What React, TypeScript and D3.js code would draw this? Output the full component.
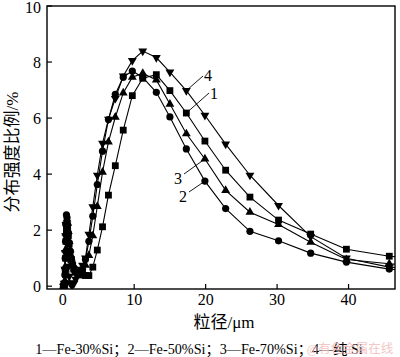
import React from "react";
import * as d3 from "d3";

const sizes = [0.1, 0.2, 0.3, 0.35, 0.4, 0.46, 0.52, 0.6, 0.69, 0.79, 0.9, 1.04, 1.2, 1.38, 1.58, 1.82, 2.09, 2.41, 2.77, 3.18, 3.66, 4.21, 4.84, 5.57, 6.4, 7.36, 8.47, 9.74, 11.2, 13.1, 15.0, 17.3, 19.9, 22.8, 26.2, 30.2, 34.7, 39.7, 45.7, 52.6];

const s1 = [0, 0, 0.1, 0.5, 1.0, 1.6, 2.0, 2.2, 2.1, 1.8, 1.5, 1.2, 0.95, 0.75, 0.6, 0.5, 0.45, 0.42, 0.4, 0.38, 0.38, 0.68, 1.29, 2.12, 3.25, 4.3, 5.57, 6.8, 7.42, 7.55, 6.98, 6.18, 5.18, 4.14, 3.18, 2.36, 1.86, 1.32, 1.07, 0.95];
const s2 = [0, 0.05, 0.4, 1.0, 1.6, 2.2, 2.55, 2.45, 2.2, 1.9, 1.55, 1.25, 1.0, 0.8, 0.65, 0.55, 0.5, 0.5, 0.6, 0.95, 1.6, 2.5, 3.63, 4.82, 5.95, 6.85, 7.46, 7.68, 7.45, 6.92, 6.04, 4.9, 3.75, 2.77, 1.96, 1.62, 1.18, 0.86, 0.61, 0.5];
const s3 = [0, 0, 0.2, 0.7, 1.3, 1.9, 2.3, 2.4, 2.25, 1.95, 1.6, 1.3, 1.0, 0.8, 0.62, 0.52, 0.48, 0.48, 0.55, 0.75, 1.1, 1.8, 2.85, 4.07, 5.15, 6.03, 6.9, 7.46, 7.6, 7.36, 6.5, 5.44, 4.54, 3.42, 2.64, 2.2, 1.57, 0.95, 0.8, 0.7];
const s4 = [0, 0.1, 0.6, 1.2, 1.8, 2.2, 2.1, 1.7, 1.2, 0.7, 0.35, 0.12, 0.05, 0.05, 0.1, 0.25, 0.45, 0.6, 0.75, 1.0, 1.85, 2.83, 3.96, 5.1, 5.96, 6.7, 7.5, 8.05, 8.39, 8.16, 7.64, 6.98, 6.1, 5.07, 3.96, 2.88, 1.77, 1.0, 0.68, 0.55];

const seriesNames = ["1", "2", "3", "4"];
const seriesValues = [s1, s2, s3, s4];
const seriesMarkers = ["square", "circle", "triangle", "triangleDown"];

const xTicks = [0, 10, 20, 30, 40];
const yTicks = [0, 2, 4, 6, 8, 10];
const yLabel = "分布强度比例/%";
const xLabel = "粒径/μm";
const caption = "1—Fe-30%Si；2—Fe-50%Si；3—Fe-70%Si；4—纯 Si";
const watermark = "@有色金属在线";

const W = 400, H = 357;
const L = 47, R = 395, T = 6, B = 289;
const FONT = "'Liberation Serif', 'Times New Roman', 'Noto Sans CJK SC', serif";

const annot = [
  { s: 3, i: 31, lx: 203, ly: 76, tx: 208, ty: 81 },
  { s: 0, i: 31, lx: 209, ly: 93, tx: 214, ty: 99 },
  { s: 2, i: 32, lx: 184, ly: 174, tx: 178, ty: 184 },
  { s: 1, i: 32, lx: 189, ly: 192, tx: 183, ty: 202 },
];

function Marker({ type, x, y }: { type: string; x: number; y: number }) {
  if (type === "circle") return <circle cx={x} cy={y} r={3.6} fill="#000" />;
  if (type === "square") return <rect x={x - 3.4} y={y - 3.4} width={6.8} height={6.8} fill="#000" />;
  const sym = d3.symbol().type(d3.symbolTriangle).size(34)();
  if (type === "triangle") return <path d={sym || ""} transform={`translate(${x},${y})`} fill="#000" />;
  return <path d={sym || ""} transform={`translate(${x},${y}) rotate(180)`} fill="#000" />;
}

export default function App() {
  const x = d3.scaleLinear().domain([-2.2, 46.5]).range([L, R]);
  const y = d3.scaleLinear().domain([-0.1, 10]).range([B, T]);
  const line = d3.line<number>().x((_, i) => x(sizes[i])).y((d) => y(d));

  return (
    <svg width={W} height={H} style={{ position: "absolute", left: 0, top: 0, background: "#fff" }} fontFamily={FONT}>
      <defs>
        <clipPath id="plot">
          <rect x={L} y={T - 5} width={R - L} height={B - T + 5} />
        </clipPath>
      </defs>
      <g clipPath="url(#plot)">
        {seriesValues.map((vals, k) => (
          <path key={k} d={line(vals) || ""} fill="none" stroke="#000" strokeWidth={1.1} />
        ))}
        {seriesValues.map((vals, k) =>
          vals.map((v, i) => <Marker key={k + "-" + i} type={seriesMarkers[k]} x={x(sizes[i])} y={y(v)} />)
        )}
      </g>
      {annot.map((a, k) => (
        <g key={k}>
          <line x1={x(sizes[a.i])} y1={y(seriesValues[a.s][a.i])} x2={a.lx} y2={a.ly} stroke="#000" strokeWidth={0.9} />
          <text x={a.tx} y={a.ty} fontSize={16} textAnchor="middle">{seriesNames[a.s]}</text>
        </g>
      ))}
      <rect x={L} y={T} width={R - L} height={B - T} fill="none" stroke="#000" strokeWidth={1.4} />
      {xTicks.map((t) => (
        <g key={t}>
          <line x1={x(t)} x2={x(t)} y1={B} y2={B - 5} stroke="#000" strokeWidth={1.2} />
          <text x={x(t)} y={B + 16} fontSize={16} textAnchor="middle">{t}</text>
        </g>
      ))}
      {yTicks.map((t) => (
        <g key={t}>
          <line x1={L} x2={L + 5} y1={y(t)} y2={y(t)} stroke="#000" strokeWidth={1.2} />
          <text x={L - 6} y={y(t) + (t === 10 ? 6.5 : 5.5)} fontSize={16} textAnchor="end">{t}</text>
        </g>
      ))}
      <text transform={`translate(18,${152}) rotate(-90)`} fontSize={17} textAnchor="middle">{yLabel}</text>
      <text x={224} y={328} fontSize={17} textAnchor="middle">{xLabel}</text>
      <text x={199} y={354} fontSize={14.2} textAnchor="middle">{caption}</text>
      <text x={350} y={353} fontSize={12.5} textAnchor="middle" fill="#f2b8b8" opacity={0.8}>{watermark}</text>
    </svg>
  );
}
